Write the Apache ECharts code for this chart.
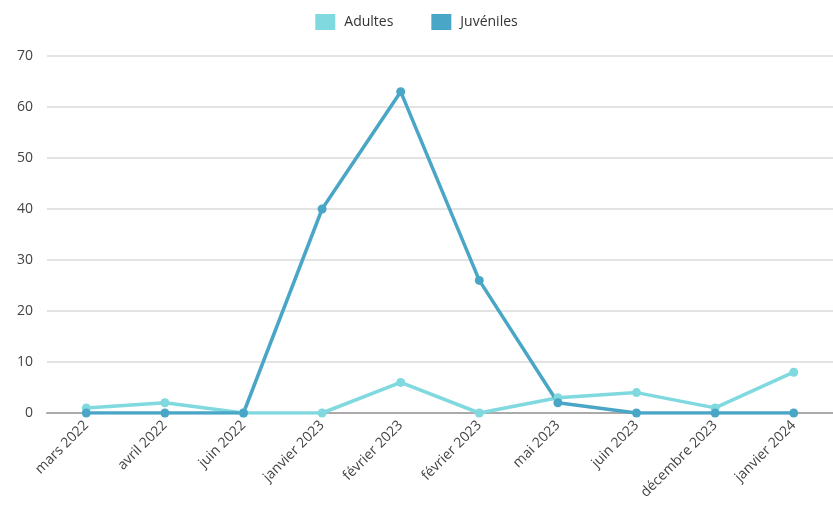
<!DOCTYPE html>
<html>
<head>
<meta charset="utf-8">
<title>Adultes / Juvéniles</title>
<script src="https://cdn.jsdelivr.net/npm/echarts@6/dist/echarts.min.js"></script>
<style>html,body{margin:0;padding:0;background:#fff}</style>
</head>
<body>
<div id="main" style="width:833px;height:531px;"></div>
<script>
var categories = ['mars 2022', 'avril 2022', 'juin 2022', 'janvier 2023', 'février 2023', 'février 2023', 'mai 2023', 'juin 2023', 'décembre 2023', 'janvier 2024'];
var adultes = [1, 2, 0, 0, 6, 0, 3, 4, 1, 8];
var juveniles = [0, 0, 0, 40, 63, 26, 2, 0, 0, 0];
var yTicks = [0, 10, 20, 30, 40, 50, 60, 70];

var myChart = echarts.init(document.getElementById('main'));

var option = {
    animation: false,
    textStyle: { fontFamily: 'Open Sans' },
    legend: {
        top: 9,
        left: 'center',
        itemWidth: 20,
        itemHeight: 16,
        itemGap: 38,
        icon: 'rect',
        textStyle: { fontSize: 14, color: '#333', padding: [0, 0, 0, 4] },
        data: ['Adultes', 'Juvéniles']
    },
    grid: { left: 47, right: 0, top: 56, bottom: 118 },
    xAxis: {
        type: 'category',
        data: categories,
        boundaryGap: true,
        axisLine: { lineStyle: { color: '#aaa', width: 2 } },
        axisTick: { show: false },
        axisLabel: { rotate: 45, fontSize: 14, color: '#444', margin: 10, interval: 0 }
    },
    yAxis: {
        type: 'value',
        min: yTicks[0],
        max: yTicks[yTicks.length - 1],
        interval: 10,
        axisLine: { show: false },
        axisTick: { show: false },
        axisLabel: { fontSize: 14, color: '#444', margin: 14 },
        splitLine: { lineStyle: { color: '#e3e3e3', width: 2 } }
    },
    series: [
        {
            name: 'Adultes',
            type: 'line',
            data: adultes,
            symbol: 'circle',
            symbolSize: 9,
            itemStyle: { color: '#7fd9df' },
            lineStyle: { width: 3.5, color: '#7fd9df' }
        },
        {
            name: 'Juvéniles',
            type: 'line',
            data: juveniles,
            symbol: 'circle',
            symbolSize: 9,
            itemStyle: { color: '#4aa6c6' },
            lineStyle: { width: 3.5, color: '#4aa6c6' }
        }
    ]
};

myChart.setOption(option);
</script>
</body>
</html>
